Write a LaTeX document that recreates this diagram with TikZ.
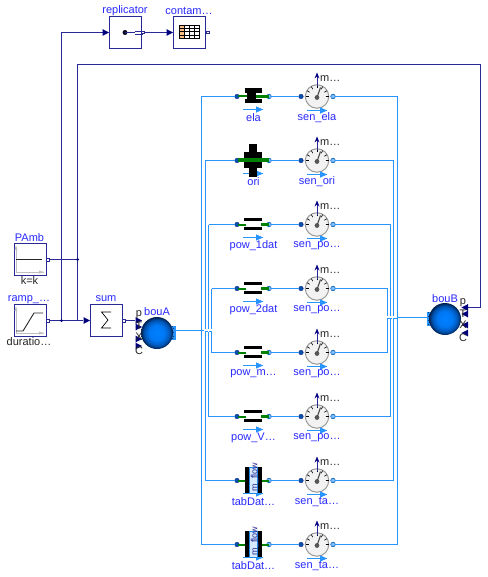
\documentclass[tikz,border=0pt]{standalone}
\usepackage{fontspec}
\setmainfont{Liberation Sans}
\usetikzlibrary{calc}
\definecolor{navy}{RGB}{40,40,150}
\definecolor{navyfill}{RGB}{0,0,127}
\definecolor{wire}{RGB}{40,148,255}
\definecolor{lab}{RGB}{40,40,255}
\definecolor{vgreen}{RGB}{0,128,0}
\definecolor{portd}{RGB}{0,85,170}
\definecolor{portl}{RGB}{120,190,255}
\pgfdeclareradialshading{ballshade}{\pgfpoint{0bp}{0bp}}{rgb(0bp)=(0,0.5,1);rgb(12bp)=(0,0.47,0.96);rgb(20bp)=(0,0.33,0.7);rgb(25bp)=(0,0.12,0.3);rgb(50bp)=(0,0.12,0.3)}
\tikzset{
  x=1pt,y=-1pt,
  blk/.style={draw=navy,line width=0.9pt,minimum size=32pt,inner sep=0pt,outer sep=0pt,fill=white},
  sig/.style={draw=navy,line width=0.9pt},
  fl/.style={draw=wire,line width=1.05pt},
  lbl/.style={text=lab,font=\fontsize{11}{12}\selectfont,inner sep=0pt},
  txt/.style={text=black!85,font=\fontsize{11}{12}\selectfont,inner sep=0pt},
  pa/.style={circle,fill=portd,draw=navy,line width=0.4pt,minimum size=4.6pt,inner sep=0pt,outer sep=0pt},
  pb/.style={circle,fill=portl,draw=portd,line width=0.5pt,minimum size=4.6pt,inner sep=0pt,outer sep=0pt},
  oport/.style={rectangle,fill=white,draw=navy,line width=0.6pt,minimum size=2.6pt,inner sep=0pt,outer sep=0pt},
  tri/.style={fill=navyfill},
  flowarrow/.style={draw=wire,line width=0.9pt},
  vb/.style={fill=black},
  vg/.style={fill=vgreen},
}
\newcommand{\inR}[2]{\fill[tri] ({#1-6.5},{#2-3.4}) -- (#1,#2) -- ({#1-6.5},{#2+3.4}) -- cycle;}
\newcommand{\inL}[2]{\fill[tri] (#1,{#2-3.4}) -- ({#1-6.5},#2) -- (#1,{#2+3.4}) -- cycle;}
\begin{document}
\begin{tikzpicture}
\useasboundingbox (0,0) rectangle (487,577);
\fill[white] (0,0) rectangle (487,577);

% ---- fluid wires: named junctions
\coordinate (busA) at (174,330.5);
\coordinate (busB) at (428,317.5);

% ---- rows
\foreach \nm/\yy/\xl/\xr/\yl/\yr/\vlab/\slab in {
  ela/96.5/201.5/397.5/330.5/317.5/ela/sen\_ela,
  ori/160.5/205.5/393.5/329.3/316/ori/sen\_ori,
  pa/224.5/208.5/390.5/329.3/316/pow\_1dat/sen\_po…,
  pb/288.5/211.5/387.5/329.3/316/pow\_2dat/sen\_po…,
  pc/352.5/211.5/387.5/331.5/318.5/pow\_m…/sen\_po…,
  pd/416.5/208.5/390.5/331.5/318.5/pow\_V…/sen\_po…,
  ta/480.5/205.5/393.5/331.5/318.5/tabDat…/sen\_ta…,
  tb/544.5/201.5/397.5/330.5/317.5/tabDat…/sen\_ta…}{
  \coordinate (\nm L) at (\xl,\yy);
  \coordinate (\nm R) at (\xr,\yy);
  \node[pa] (\nm va) at (237,\yy) {};
  \node[pb] (\nm vb) at (269,\yy) {};
  \node[pa] (\nm sa) at (301,\yy) {};
  \node[pb] (\nm sb) at (333,\yy) {};
  \draw[fl] (\nm L) -- (\nm va);
  \draw[fl] (\nm vb) -- (\nm sa);
  \draw[fl] (\nm sb) -- (\nm R);
  \draw[fl] (\nm L) -- (\xl,\yl);
  \draw[fl] (\nm R) -- (\xr,\yr);
  % sensor
  \node[circle,draw=black!40,fill=black!5,line width=1pt,minimum size=23.5pt,inner sep=0pt] (\nm dial) at (317,\yy) {};
  \foreach \a in {30,60,90,120,150,180,0}{
    \draw[black,line width=0.6pt] ($(317,\yy)+(\a:8.5 and -8.5)$) -- ($(317,\yy)+(\a:11.5 and -11.5)$);
  }
  \fill[black!65] (317,{\yy+1}) circle (2.4);
  \draw[black!70,line width=1.1pt] (317,{\yy+1}) -- (320.5,{\yy-9});
  \draw[navy,line width=0.8pt] (317,{\yy-10}) -- (317,{\yy-22});
  \fill[navyfill] (314.5,{\yy-18}) -- (317,{\yy-24}) -- (319.5,{\yy-18}) -- (317,{\yy-20}) -- cycle;
  \node[txt,anchor=west] (\nm m) at (320,{\yy-17.5}) {m…};
  % flow arrows
  \draw[flowarrow] (243,{\yy+13}) -- (263,{\yy+13});
  \fill[wire] (256,{\yy+9.8}) -- (263,{\yy+13}) -- (256,{\yy+16.2}) -- cycle;
  \draw[flowarrow] (307,{\yy+14}) -- (327,{\yy+14});
  \fill[wire] (320,{\yy+10.8}) -- (327,{\yy+14}) -- (320,{\yy+17.2}) -- cycle;
  % labels
  \node[lbl] (\nm vl) at (253.5,{\yy+21.5}) {\vlab};
  \node[lbl] (\nm sl) at (317,{\yy+21.5}) {\slab};
}
% buses, stepped at the crossings
\draw[fl] (busA) -- (204,330.5);
\draw[fl] (205,331.5) -- (207.5,331.5) (209,331.5) -- (212,331.5);
\draw[fl] (387,318.5) -- (392,318.5) (393,318.5) -- (396.5,318.5);
\draw[fl] (397.5,317.5) -- (busB);

% ---- valve icons
% ela
\fill[vg] (238,95.5) rectangle (247,97.5);
\fill[vb] (244.5,88) rectangle (262,93);
\fill[vb] (244.5,99) rectangle (262,103);
\fill[vb] (247,88) rectangle (256,103);
\fill[vg] (256,95) rectangle (269,98);
% ori
\fill[vb] (249,144) rectangle (257,177);
\fill[vb] (244,152) rectangle (262,168);
\fill[vg] (238,158.5) rectangle (269,162.5);
% pow
\foreach \nm/\yy in {pa/224,pb/288,pc/352,pd/416}{
  \fill[vb] (244,{\yy-6.5}) rectangle (262,{\yy-3.5});
  \fill[vb] (244,{\yy+3}) rectangle (262,{\yy+6});
  \fill[vg] (238,{\yy-0.5}) rectangle (246,{\yy+1.5});
  \fill[vg] (261,{\yy-1}) rectangle (269,{\yy+2});
}
% tab
\foreach \nm/\yy in {ta/480,tb/544}{
  \fill[vg] (238,{\yy-0.5}) rectangle (246,{\yy+1.5});
  \fill[vg] (261,{\yy-0.5}) rectangle (269,{\yy+1.5});
  \fill[vb] (245,{\yy-13}) rectangle (249.5,{\yy+13});
  \fill[vb] (257.5,{\yy-13}) rectangle (262,{\yy+13});
  \draw[draw=wire!90!black,fill=wire!20,line width=0.8pt] (249.5,{\yy-12.5}) rectangle (257.5,{\yy+13});
  \node[rotate=90,text=navy,font=\fontsize{9}{10}\selectfont,inner sep=0pt] (\nm ic) at (255,{\yy-3}) {m\_flow};
}

% ---- signal wires
\node[blk] (pamb) at (30,259.5) {};
\node[blk] (ramp) at (30,320.5) {};
\node[blk] (sum) at (106,320.5) {};
\node[blk] (rep) at (125,32.5) {};
\node[blk] (con) at (189,32.5) {};
\node[oport] (pambo) at (47.5,259.5) {};
\node[oport] (rampo) at (47.5,320.5) {};
\node[oport] (sumo) at (123.5,320.5) {};
\node[oport] (repo) at (143,32.5) {};
\node[oport] (cono) at (207.5,32.5) {};
\coordinate (jA) at (61.5,320.5);
\coordinate (jB) at (77.5,259.5);
\coordinate (jC) at (77.5,320.5);
\coordinate (topL) at (61.5,32.5);
\coordinate (topB) at (77.5,64.5);
\coordinate (topR) at (480.5,64.5);
\coordinate (topD) at (480.5,307.5);
\draw[sig] (pambo) -- (jB);
\draw[sig] (rampo) -- (83,320.5);
\draw[sig] (jA) -- (topL) -- (103,32.5);
\draw[sig] (jC) -- (topB) -- (topR) -- (topD) -- (462,307.5);
\draw[sig] (jC) -- (83,320.5);
\draw[sig] (repo) -- (167,32.5);
\draw[sig] (sumo) -- (135,320.5);
\fill[navyfill] (jA) circle (1.5);
\fill[navyfill] (jB) circle (1.5);
\inR{90}{320.5}
\inR{109}{32.5}
\inR{173}{32.5}
% labels of blocks
\node[lbl] (l1) at (29.5,238) {PAmb};
\node[txt] (l2) at (29.5,281) {k=k};
\node[lbl] (l3) at (29,300) {ramp\_…};
\node[txt] (l4) at (29,342) {duratio…};
\node[lbl] (l5) at (106,299) {sum};
\node[lbl] (l6) at (125,11) {replicator};
\node[lbl] (l7) at (189,11) {contam…};
\node[lbl] (l8) at (157,312) {bouA};
\node[lbl] (l9) at (445,299) {bouB};
% PAmb icon
\draw[black!25,line width=0.8pt] (16,248) -- (16,272) -- (44,272);
\fill[black!25] (14.5,250) -- (16,245) -- (17.5,250) -- cycle;
\fill[black!25] (39,270.5) -- (44,272) -- (39,273.5) -- cycle;
\draw[black!85,line width=0.9pt] (16,259.5) -- (42,259.5);
% ramp icon
\draw[black!25,line width=0.8pt] (16,309) -- (16,333) -- (44,333);
\fill[black!25] (14.5,311) -- (16,306) -- (17.5,311) -- cycle;
\fill[black!25] (39,331.5) -- (44,333) -- (39,334.5) -- cycle;
\draw[black!85,line width=0.9pt] (16,331) -- (23,331) -- (34,313) -- (43,313);
% sum icon
\draw[black,line width=0.7pt] (111,312) -- (101.5,312) -- (108,320) -- (101.5,328) -- (111,328);
% replicator icon
\fill[black!80!navy] (125,32.5) circle (2.5);
\draw[navy,line width=1.5pt] (125,32.5) -- (135,32.5);
\draw[navy,line width=0.9pt] (135,31) -- (143,31) (135,34) -- (143,34);
% table icon
\fill[white] (179,25) rectangle (199,38);
\fill[orange!50] (179,25) rectangle (184,38);
\draw[black,line width=0.7pt] (179,25) rectangle (199,38);
\foreach \xx in {184,189,194}{\draw[black,line width=0.5pt] (\xx,25) -- (\xx,38);}
\foreach \yy in {28.5,31.5,35}{\draw[black,line width=0.5pt] (179,\yy) -- (199,\yy);}

% ---- boundaries
\foreach \yy in {320.5,327,339,346}{\inR{142}{\yy}}
\foreach \yy in {307.5,314,325,333}{\inL{468}{\yy}}
\fill[wire] (171,326) rectangle (175.5,340);
\fill[wire] (427,312) rectangle (431.5,326);
\foreach \i/\o in {0/0,1/1.2,2/0,3/1.2,4/0,5/1.2,6/0}{
  \fill[black!60!wire] ({172+\o},{326+2*\i}) rectangle ++(1.2,1);
  \fill[black!60!wire] ({427.5+\o},{312+2*\i}) rectangle ++(1.2,1);
}
\shade[shading=ballshade] (157,333) circle (16);
\shade[shading=ballshade] (445,319) circle (16);
\foreach \yy/\lt in {315/p,326/T,337/X,351/C}{\node[txt] at (139,\yy) {\lt};}
\foreach \yy/\lt in {303/p,314/T,325/X,338/C}{\node[txt] at (463,\yy) {\lt};}
\end{tikzpicture}
\end{document}
